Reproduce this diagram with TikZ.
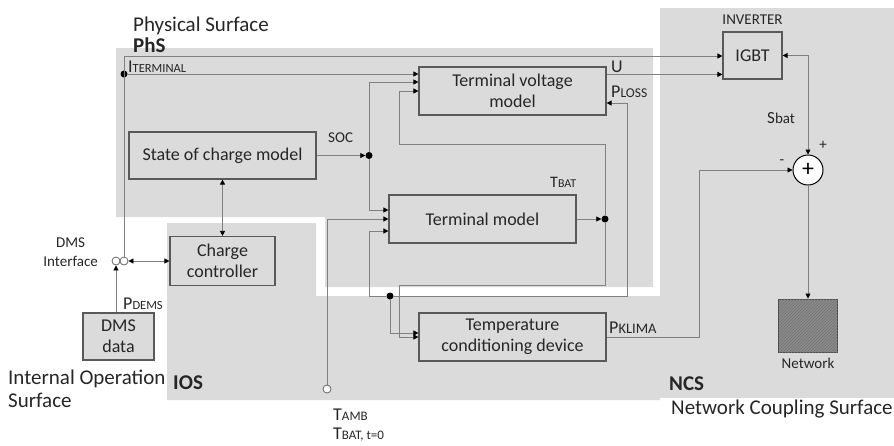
\documentclass[tikz,border=0pt]{standalone}
\usepackage{fontspec}
\setmainfont{Carlito}
\usetikzlibrary{arrows.meta,patterns,positioning}
\tikzset{
  zone/.style={fill=black!14},                                  % surface area
  blk/.style={draw=black!65,line width=1.2pt,align=center,inner sep=0pt,
    text=black!85,font=\fontsize{18}{21}\selectfont},          % model block
  wire/.style={draw=black!50,line width=0.8pt},
  arr/.style={wire,-{Triangle[length=5pt,width=5pt,color=black]}},
  darr/.style={wire,{Triangle[length=5pt,width=5pt,color=black]}-{Triangle[length=5pt,width=5pt,color=black]}},
  jdot/.style={circle,fill=black,inner sep=0pt,minimum size=7pt}, % junction
  port/.style={circle,draw=black!60,fill=white,line width=0.8pt,inner sep=0pt,minimum size=8pt},
  sumc/.style={circle,draw=black,fill=white,line width=1pt,inner sep=0pt,
    minimum size=30pt,font=\fontsize{24}{24}\selectfont},
  net/.style={draw=black!70,line width=1pt,fill=black!45,
    postaction={pattern=north east lines,pattern color=black!55}},
  lbl/.style={inner sep=0pt,text=black!85,font=\fontsize{15}{19}\selectfont},
  sig/.style={inner sep=0pt,text=black!85,font=\fontsize{18}{21}\selectfont},
  surf/.style={inner sep=0pt,text=black!85,font=\fontsize{21}{24}\selectfont},
  surfb/.style={surf,font=\fontsize{21}{24}\selectfont\bfseries},
}
\newcommand{\sublab}[3][12]{#2{\fontsize{#1}{#1}\selectfont #3}}

\begin{document}
\begin{tikzpicture}[x=1pt,y=-1pt]
  \useasboundingbox (0,0) rectangle (894,445);
  % surfaces
  \fill[zone] (116,48) -- (653,48) -- (653,287) -- (325,287) -- (325,217) -- (116,217) -- cycle;
  \fill[zone] (167,223) -- (316,223) -- (316,296) -- (660,296) -- (660,400) -- (167,400) -- cycle;
  \fill[zone] (660,8) rectangle (894,398);
  \node[surf,anchor=base west] (lphs1) at (133,31) {Physical Surface};
  \node[surfb,anchor=base west] (lphs2) at (133,52) {PhS};
  \node[surf,anchor=base west] (lios1) at (8,384) {Internal Operation};
  \node[surf,anchor=base west] (lios2) at (8,407) {Surface};
  \node[surfb,anchor=base west] (lios3) at (173,389) {IOS};
  \node[surfb,anchor=base west] (lncs1) at (669,390) {NCS};
  \node[surf,anchor=base west] (lncs2) at (671,414) {Network Coupling Surface};

  % blocks
  \node[blk,minimum width=59,minimum height=47] (igbt) at (752.5,55.5) {IGBT};
  \node[blk,minimum width=187,minimum height=48] (tvm) at (512.5,91) {Terminal voltage\\model};
  \node[blk,minimum width=187,minimum height=47] (socm) at (222.5,155.5) {State of charge model};
  \node[blk,minimum width=187,minimum height=48] (tm) at (482.5,219) {Terminal model};
  \node[blk,minimum width=187,minimum height=48] (tcd) at (512.5,337) {Temperature\\conditioning device};
  \node[blk,minimum width=105,minimum height=49] (cc) at (222.5,261) {Charge\\controller};
  \node[blk,zone,minimum width=71,minimum height=47] (dms) at (118.5,336.5) {DMS\\data};
  \node[net,minimum width=59,minimum height=53] (nw) at (808,325.5) {};
  \node[sumc] (sum) at (808,170) {+};
  \node[lbl,above=7pt of igbt] (linv) {INVERTER};
  \node[lbl,below=5pt of nw] (lnet) {Network};

  % junctions and ports
  \coordinate (itop) at (124,56);
  \node[jdot] (ijunc) at (124,74) {};
  \node[jdot] (socj) at (369,155.5) {};
  \node[jdot] (tbatj) at (605,219) {};
  \node[jdot] (lossj) at (390,296) {};
  \node[port] (dmsa) at (116,261) {};
  \node[port] (dmsb) at (124,261) {};
  \node[port] (tamb) at (327,389) {};
  \coordinate (fbk) at (399,144);
  \coordinate (tbl) at (399,285);
  \coordinate (lsr) at (627,296);
  \coordinate (lsl) at (369,296);
  \coordinate (kx) at (699,337);
  \coordinate (uo) at ([yshift=-8pt]tvm.north east);
  \coordinate (lossin) at ([yshift=-12pt]tvm.east);

  % signals
  \draw[wire] (itop) -- (dmsb);
  \draw[arr] (itop) -- (itop -| igbt.west);
  \draw[arr] (ijunc) -- (ijunc -| tvm.west);
  \draw[arr] (uo) -- (uo -| igbt.west);
  \draw[arr] (socm.east) -- (socj);
  \draw[arr] (socj) |- ([yshift=9pt]tvm.west);
  \draw[arr] (socj) |- ([yshift=9pt]tm.west);
  \draw[arr] (tm.east) -- (tbatj);
  \draw[arr] (tbatj) |- (fbk) |- (tvm.west);
  \draw[arr] (tbatj) |- (tbl) |- (tcd.west);
  \draw[arr] (tamb) |- (tm.west);
  \draw[arr] (lossj) -- (lsr) |- (lossin);
  \draw[arr] (lossj) -- (lsl) |- ([yshift=-12pt]tm.west);
  \draw[arr] (lossj) |- ([yshift=4pt]tcd.west);
  \draw[arr] (tcd.east) -- (kx) |- (sum.west);
  \draw[darr] (sum.north) |- (igbt.east);
  \draw[arr] (sum) -- (nw);
  \draw[darr] (socm) -- (cc);
  \draw[darr] (dmsb) -- (cc);
  \draw[arr] (dms.north -| dmsa) -- (dmsa);

  % signal labels
  \node[sig,anchor=base west] (lit) at (128,72) {\sublab[12.5]{I}{TERMINAL}};
  \node[lbl,anchor=base west] (lsoc) at (328,142) {SOC};
  \node[sig,anchor=base west] (lu) at (611,72) {U};
  \node[sig,anchor=base west] (lloss) at (611,97) {\sublab[13.5]{P}{LOSS}};
  \node[lbl,anchor=base west] (ltbat) at (550,187) {\sublab[12]{\fontsize{16}{16}\selectfont T}{BAT}};
  \node[sig,anchor=base west] (lklima) at (609,333) {\sublab[14.5]{P}{KLIMA}};
  \node[lbl,anchor=base west] (lsbat) at (767,123) {\sublab[15]{\fontsize{17}{17}\selectfont S}{bat}};
  \node[lbl] (lplus) at (823,145) {+};
  \node[lbl] (lminus) at (782,162) {-};
  \node[sig,anchor=base west] (ldems) at (123,309) {\sublab[12.5]{P}{DEMS}};
  \node[lbl,anchor=east,align=center] (ldmsif) at (98,252) {DMS\\Interface};
  \node[sig,anchor=base west] (ltamb) at (333,420) {\sublab[13]{T}{AMB}};
  \node[sig,anchor=base west] (ltbat0) at (333,439) {\sublab[13]{T}{BAT, t=0}};
\end{tikzpicture}
\end{document}
